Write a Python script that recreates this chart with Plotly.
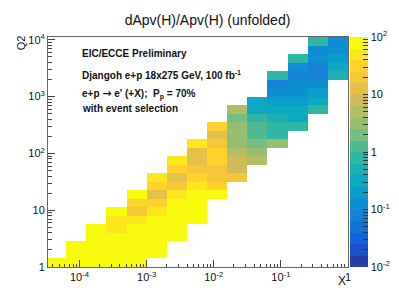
import numpy as np
import plotly.graph_objects as go

# ---------------- data ----------------
# bin edges (log10) of the x and Q2 binning
x_edges_log10 = [-4.5, -4.2, -3.9, -3.6, -3.3, -3.0, -2.7, -2.4, -2.1,
                 -1.8, -1.5, -1.2, -0.9, -0.6, -0.3, 0.0]
q2_edges_log10 = [0.0, 0.15, 0.3, 0.45, 0.6, 0.75, 0.9, 1.05, 1.2, 1.35,
                  1.5, 1.65, 1.8, 1.95, 2.1, 2.25, 2.4, 2.55, 2.7, 2.85,
                  3.0, 3.15, 3.3, 3.45, 3.6, 3.75, 3.9, 4.05]

N = None
# dApv(H)/Apv(H) per (Q2 row, x column); rows from lowest Q2 to highest
rel_unc = [
    [80, 85, 90, 90, 80, N, N, N, N, N, N, N, N, N, N],
    [N, 85, 90, 85, 80, 75, N, N, N, N, N, N, N, N, N],
    [N, 80, 85, 80, 75, 70, N, N, N, N, N, N, N, N, N],
    [N, N, 80, 75, 75, 70, 70, N, N, N, N, N, N, N, N],
    [N, N, 75, 50, 75, 70, 70, N, N, N, N, N, N, N, N],
    [N, N, N, 50, 50, 70, 70, 70, N, N, N, N, N, N, N],
    [N, N, N, 70, 20, 50, 70, 70, N, N, N, N, N, N, N],
    [N, N, N, N, 32, 32, 68, 70, N, N, N, N, N, N, N],
    [N, N, N, N, 70, 13, 50, 68, 70, N, N, N, N, N, N],
    [N, N, N, N, N, 32, 20, 50, 32, N, N, N, N, N, N],
    [N, N, N, N, N, 50, 13, 32, 20, 20, N, N, N, N, N],
    [N, N, N, N, N, N, 32, 20, 20, 8, N, N, N, N, N],
    [N, N, N, N, N, N, 50, 13, 32, 8, 5, N, N, N, N],
    [N, N, N, N, N, N, N, 13, 32, 5, 3.2, N, N, N, N],
    [N, N, N, N, N, N, N, 50, 20, 3.2, 2.0, 3.2, N, N, N],
    [N, N, N, N, N, N, N, N, 13, 3.2, 1.25, 0.8, N, N, N],
    [N, N, N, N, N, N, N, N, 32, 3.2, 1.25, 0.8, 0.8, N, N],
    [N, N, N, N, N, N, N, N, N, 2.0, 0.8, 0.5, 0.32, N, N],
    [N, N, N, N, N, N, N, N, N, 5, 0.32, 0.32, 0.32, 0.8, N],
    [N, N, N, N, N, N, N, N, N, N, 0.32, 0.2, 0.2, 0.32, N],
    [N, N, N, N, N, N, N, N, N, N, N, 0.125, 0.125, 0.2, N],
    [N, N, N, N, N, N, N, N, N, N, N, 0.08, 0.125, 0.125, N],
    [N, N, N, N, N, N, N, N, N, N, N, 0.8, 0.08, 0.08, 0.5],
    [N, N, N, N, N, N, N, N, N, N, N, N, 0.125, 0.08, 0.32],
    [N, N, N, N, N, N, N, N, N, N, N, N, 0.8, 0.125, 0.2],
    [N, N, N, N, N, N, N, N, N, N, N, N, N, 0.125, 0.125],
    [N, N, N, N, N, N, N, N, N, N, N, N, N, 0.8, 0.125],
]

x_tick_vals = [1e-4, 1e-3, 1e-2, 1e-1, 1]
x_tick_text = ["10<sup>-4</sup>", "10<sup>-3</sup>", "10<sup>-2</sup>", "10<sup>-1</sup>", "1"]
y_tick_vals = [1, 10, 100, 1000, 10000]
y_tick_text = ["1", "10", "10<sup>2</sup>", "10<sup>3</sup>", "10<sup>4</sup>"]
z_tick_vals = [0.01, 0.1, 1, 10, 100]
z_tick_text = ["10<sup>-2</sup>", "10<sup>-1</sup>", "1", "10", "10<sup>2</sup>"]

# ---------------- style ----------------
FONT = "Liberation Sans, Arial, Helvetica, sans-serif"

# ROOT kBird palette, 20 discrete contour levels
bird_stops = [0.0, 0.125, 0.25, 0.375, 0.5, 0.625, 0.75, 0.875, 1.0]
bird_r = [0.2082, 0.0592, 0.0780, 0.0232, 0.1802, 0.5301, 0.8186, 0.9956, 0.9764]
bird_g = [0.1664, 0.3599, 0.5041, 0.6419, 0.7178, 0.7492, 0.7328, 0.7862, 0.9832]
bird_b = [0.5293, 0.8684, 0.8385, 0.7914, 0.6425, 0.4662, 0.3499, 0.1968, 0.0539]


def bird(f):
    r = np.interp(f, bird_stops, bird_r)
    g = np.interp(f, bird_stops, bird_g)
    b = np.interp(f, bird_stops, bird_b)
    return "rgb(%d,%d,%d)" % (round(r * 255), round(g * 255), round(b * 255))


nlev = 20
colorscale = []
for i in range(nlev):
    c = bird((i + 1) / nlev)
    colorscale.append([i / nlev, c])
    colorscale.append([(i + 1) / nlev, c])

x_edges = [10 ** v for v in x_edges_log10]
q2_edges = [10 ** v for v in q2_edges_log10]
z = [[(np.log10(v) if v is not None else None) for v in row] for row in rel_unc]


def log_minor(lo, hi):
    out = []
    for d in range(lo, hi):
        for m in range(2, 10):
            out.append(m * 10.0 ** d)
    return out


z_ticks_all = list(np.log10(z_tick_vals)) + [np.log10(v) for v in log_minor(-2, 2)]
z_text_all = z_tick_text + [""] * len(log_minor(-2, 2))

fig = go.Figure(
    go.Heatmap(
        x=x_edges, y=q2_edges, z=z, zmin=-2, zmax=2,
        colorscale=colorscale, hoverongaps=False,
        colorbar=dict(
            x=1.0064, xanchor="left", xpad=0, xref="paper",
            y=0.5, yanchor="middle", ypad=0, len=1, lenmode="fraction",
            thickness=18, outlinewidth=0,
            tickmode="array", tickvals=z_ticks_all, ticktext=z_text_all,
            ticks="inside", ticklen=5, tickcolor="#333", tickwidth=1,
            tickfont=dict(family=FONT, size=11, color="#111"),
        ),
    )
)

axis_common = dict(
    type="log", showline=True, linecolor="#666", linewidth=1, mirror=True,
    showgrid=False, zeroline=False, ticks="inside", ticklen=7,
    tickcolor="#444", tickwidth=1, tickmode="array",
    tickfont=dict(family=FONT, size=11, color="#111"),
)

fig.update_xaxes(
    **axis_common, range=[-4.47, 0], tickvals=x_tick_vals, ticktext=x_tick_text,
    minor=dict(tickmode="array", tickvals=log_minor(-5, 0), ticks="inside",
               ticklen=3.5, tickcolor="#444", showgrid=False),
)
fig.update_yaxes(
    **axis_common, range=[0, 4.05], tickvals=y_tick_vals, ticktext=y_tick_text,
    minor=dict(tickmode="array", tickvals=log_minor(0, 4), ticks="inside",
               ticklen=3.5, tickcolor="#444", showgrid=False),
)

ann_font = dict(family=FONT, size=10, color="#111")
arrow = "<span style='font-family:DejaVu Sans;font-size:11px'>\u2192</span>"
annotations = [
    dict(text="<b>EIC/ECCE Preliminary</b>", x=0.106, y=0.930),
    dict(text="<b>Djangoh e+p 18x275 GeV, 100 fb<sup>-1</sup></b>", x=0.106, y=0.834),
    dict(text="<b>e+p " + arrow + " e' (+X);  P<sub>p</sub> = 70%</b>", x=0.106, y=0.754),
    dict(text="<b>with event selection</b>", x=0.106, y=0.687),
]
for a in annotations:
    a.update(xref="paper", yref="paper", xanchor="left", yanchor="middle",
             showarrow=False, font=ann_font)
annotations.append(dict(text="Q2", textangle=-90, x=-0.0916, y=0.975,
                        xref="paper", yref="paper", xanchor="center",
                        yanchor="middle", showarrow=False,
                        font=dict(family=FONT, size=11, color="#111")))
annotations.append(dict(text="X", x=0.981, y=-0.062, xref="paper", yref="paper",
                        xanchor="center", yanchor="middle", showarrow=False,
                        font=dict(family=FONT, size=12, color="#111")))

fig.update_layout(
    width=399, height=288,
    margin=dict(l=40, r=48, t=29, b=29),
    paper_bgcolor="white", plot_bgcolor="white",
    title=dict(text="dApv(H)/Apv(H) (unfolded)", x=0.5, xref="container",
               xanchor="center", y=1 - 12 / 288, yref="container",
               yanchor="middle",
               font=dict(family=FONT, size=14, color="#111")),
    annotations=annotations,
    showlegend=False,
)

fig.write_html("out.html")
